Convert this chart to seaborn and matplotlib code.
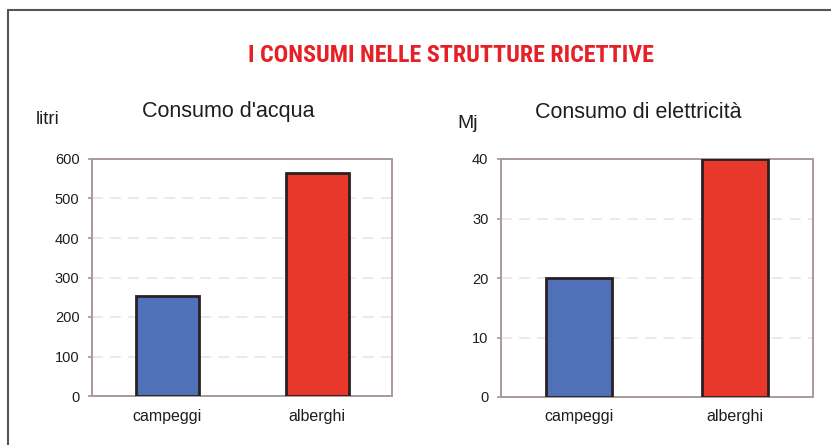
import matplotlib
matplotlib.use("Agg")
import matplotlib.pyplot as plt
import seaborn as sns
import pandas as pd
from matplotlib.lines import Line2D

# Data
categorie = ["campeggi", "alberghi"]
acqua_litri = [252, 565]
elettricita_mj = [20, 40]
colori = ["#5070b8", "#e8372b"]

sns.set_theme(style="white")
plt.rcParams['font.family'] = ['Liberation Sans', 'DejaVu Sans']

fig = plt.figure(figsize=(8.31, 4.45), dpi=100)

ax1 = fig.add_axes([92 / 831, 1 - 396 / 445, 300 / 831, 237 / 445])
ax2 = fig.add_axes([501 / 831, 1 - 397 / 445, 312 / 831, 238 / 445])

df_a = pd.DataFrame({"cat": categorie, "val": acqua_litri})
df_e = pd.DataFrame({"cat": categorie, "val": elettricita_mj})

for ax, df, top, step in [(ax1, df_a, 600, 100), (ax2, df_e, 40, 10)]:
    sns.barplot(data=df, x="cat", y="val", hue="cat", palette=colori, legend=False,
                saturation=1, width=0.42, edgecolor="#2a2022", linewidth=2, ax=ax, zorder=3)
    ax.set_ylim(0, top)
    ax.set_xlim(-0.5, 1.5)
    ax.set_yticks(range(0, top + 1, step))
    ax.set_xlabel("")
    ax.set_ylabel("")
    ax.yaxis.grid(True, color="#e8e8e8", linewidth=1.3, linestyle=(0, (6, 4)), zorder=0)
    for s in ax.spines.values():
        s.set_color("#a89a98")
        s.set_linewidth(1.4)
    ax.tick_params(axis="y", labelsize=10.5, colors="#1e1e1e", length=3, pad=6, left=True, color="#a89a98")
    ax.tick_params(axis="x", labelsize=11.5, colors="#1e1e1e", length=0, pad=9)

# titoli
fig.text(451 / 831, 1 - 56 / 445, "I CONSUMI NELLE STRUTTURE RICETTIVE", color="#e52027",
         fontsize=17.3, fontweight="bold", ha="center", va="center",
         family=['Roboto Condensed', 'Archivo Narrow', 'Liberation Sans Narrow', 'DejaVu Sans'])
fig.text(228 / 831, 1 - 112 / 445, "Consumo d'acqua", fontsize=15.5, ha="center", va="center", color="#1e1e1e")
fig.text(638 / 831, 1 - 112 / 445, "Consumo di elettricità", fontsize=15.5, ha="center", va="center", color="#1e1e1e")
fig.text(48 / 831, 1 - 120 / 445, "litri", fontsize=13.5, ha="center", va="center", color="#1e1e1e")
fig.text(468 / 831, 1 - 124 / 445, "Mj", fontsize=14, ha="center", va="center", color="#1e1e1e")

# cornice
fig.add_artist(Line2D([8 / 831, 1], [1 - 10 / 445, 1 - 10 / 445], color="#555555", linewidth=1.5))
fig.add_artist(Line2D([8 / 831, 8 / 831], [0, 1 - 10 / 445], color="#555555", linewidth=1.5))

fig.savefig("out.png", dpi=100)
